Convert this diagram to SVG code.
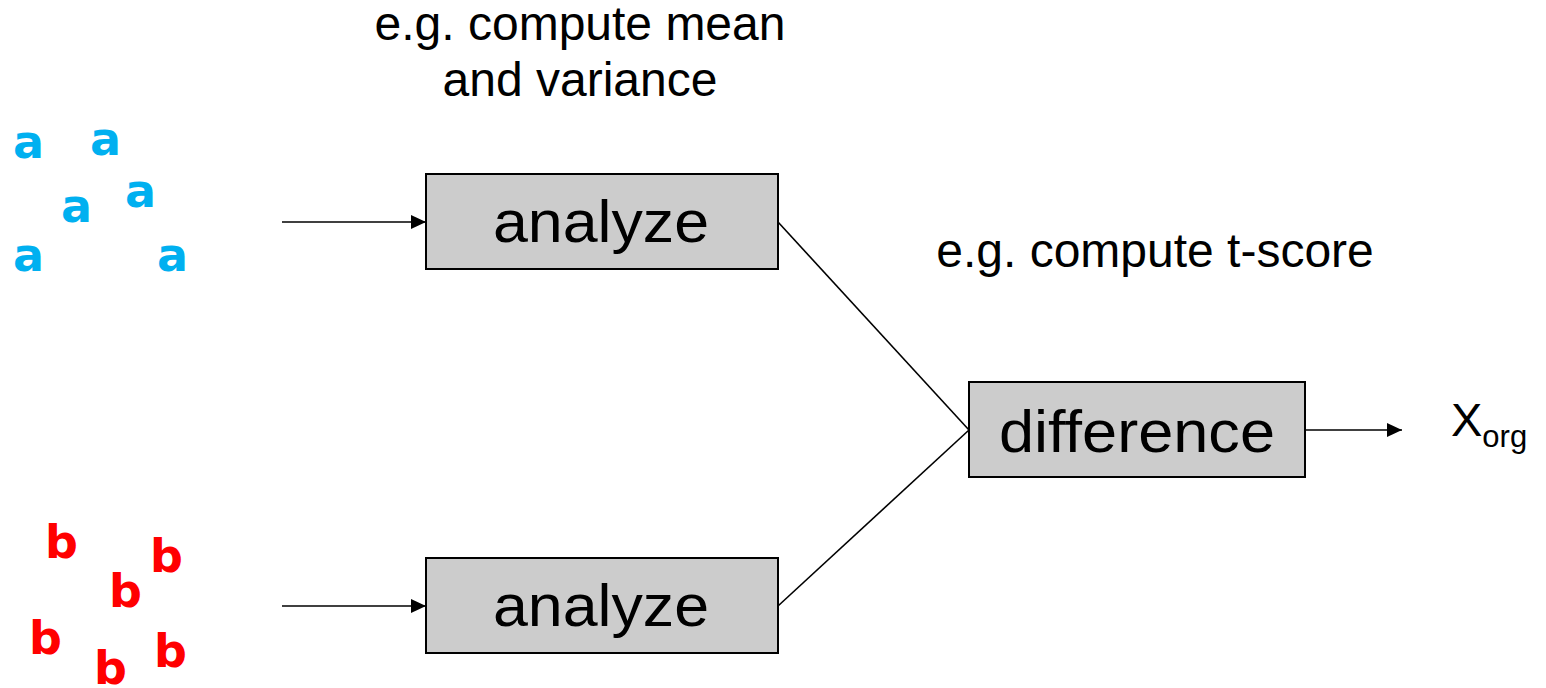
<svg xmlns="http://www.w3.org/2000/svg" width="1546" height="688" viewBox="0 0 1546 688">
<style>
.lbl{font-family:"Liberation Sans",Arial,sans-serif;fill:#000}
.box{fill:#CCCCCC;stroke:#000;stroke-width:2}
.boxt{font-family:"Liberation Sans",Arial,sans-serif;font-size:59px;fill:#000;text-anchor:middle}
.a{font-family:"DejaVu Sans",Verdana,sans-serif;font-weight:bold;font-size:46px;fill:#00B0F0}
.b{font-family:"DejaVu Sans",Verdana,sans-serif;font-weight:bold;font-size:46px;fill:#FF0000}
.conn{stroke:#000;stroke-width:1.6;fill:none}
</style>
<defs>
<marker id="arr" markerUnits="userSpaceOnUse" markerWidth="16" markerHeight="16" refX="15" refY="7" orient="auto">
<path d="M0,0 L15,7 L0,14 z" fill="#000"/>
</marker>
</defs>
<rect width="1546" height="688" fill="#fff"/>
<g id="samples-a">
<text class="a" x="13" y="158">a</text>
<text class="a" x="90" y="155">a</text>
<text class="a" x="61" y="222">a</text>
<text class="a" x="125" y="207">a</text>
<text class="a" x="13" y="271">a</text>
<text class="a" x="157" y="271">a</text>
</g>
<g id="samples-b">
<text class="b" x="45" y="558">b</text>
<text class="b" x="150" y="572">b</text>
<text class="b" x="109" y="607">b</text>
<text class="b" x="29" y="654">b</text>
<text class="b" x="154" y="667">b</text>
<text class="b" x="94" y="684">b</text>
</g>
<g id="label-mean">
<text class="lbl" font-size="48" x="580" y="40" text-anchor="middle">e.g. compute mean</text>
<text class="lbl" font-size="48" x="580" y="96" text-anchor="middle">and variance</text>
</g>
<g id="label-tscore">
<text class="lbl" font-size="48" x="1155" y="267" text-anchor="middle">e.g. compute t-score</text>
</g>
<g id="analyze-a">
<rect class="box" x="426" y="174" width="352" height="95"/>
<text class="boxt" x="601" y="242" textLength="216" lengthAdjust="spacingAndGlyphs">analyze</text>
</g>
<g id="analyze-b">
<rect class="box" x="426" y="558" width="352" height="95"/>
<text class="boxt" x="601" y="626" textLength="216" lengthAdjust="spacingAndGlyphs">analyze</text>
</g>
<g id="difference">
<rect class="box" x="969" y="382" width="336" height="95"/>
<text class="boxt" x="1137" y="452" textLength="276" lengthAdjust="spacingAndGlyphs">difference</text>
</g>
<g id="output">
<text class="lbl" x="1451" y="436" font-size="47">X<tspan font-size="31" dy="11">org</tspan></text>
</g>
<g id="connectors">
<line class="conn" x1="282" y1="222" x2="426" y2="222" marker-end="url(#arr)"/>
<line class="conn" x1="282" y1="606" x2="426" y2="606" marker-end="url(#arr)"/>
<line class="conn" x1="778" y1="222" x2="969" y2="430"/>
<line class="conn" x1="778" y1="606" x2="969" y2="430"/>
<line class="conn" x1="1305" y1="430" x2="1402" y2="430" marker-end="url(#arr)"/>
</g>
</svg>
